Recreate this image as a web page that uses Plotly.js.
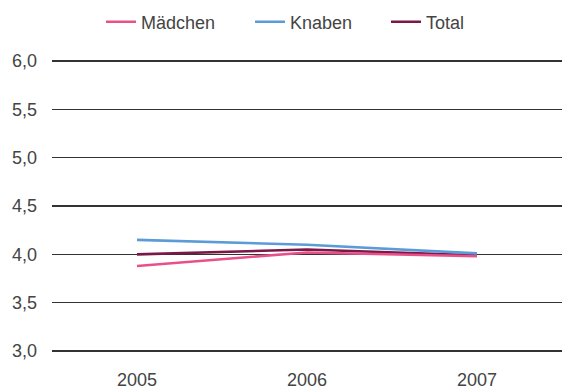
<!DOCTYPE html>
<html>
<head>
<meta charset="utf-8">
<script src="https://cdn.plot.ly/plotly-3.0.1.min.js"></script>
<style>
  html, body { margin: 0; padding: 0; background: #fff; }
  #chart { width: 571px; height: 387px; }
</style>
</head>
<body>
<div id="chart"></div>
<script>
// Years on the category axis
const years = ['2005', '2006', '2007'];

// Series values per year
const maedchen = [3.88, 4.02, 3.98];
const knaben   = [4.15, 4.10, 4.01];
const total    = [4.00, 4.05, 3.99];

// Y axis tick values
const yTicks = [3.0, 3.5, 4.0, 4.5, 5.0, 5.5, 6.0];

const fontFamily = 'Liberation Sans, Arial, sans-serif';
const textColor = '#444444';
const fontSize = 18;

const traces = [
  { name: 'Mädchen', y: maedchen, color: '#e8508a', legend: 'legend' },
  { name: 'Knaben',  y: knaben,   color: '#5b9bd8', legend: 'legend2' },
  { name: 'Total',   y: total,    color: '#7a1848', legend: 'legend3' }
].map(s => ({
  type: 'scatter',
  mode: 'lines',
  x: years,
  y: s.y,
  name: s.name,
  legend: s.legend,
  line: { color: s.color, width: 2.6 },
  hoverinfo: 'skip'
}));

// Order drawn: Total under Mädchen, Knaben on top
const drawOrder = [traces[2], traces[0], traces[1]];

const legendBase = {
  orientation: 'h',
  y: 1.1216,
  yanchor: 'middle',
  xanchor: 'left',
  bgcolor: 'rgba(0,0,0,0)',
  borderwidth: 0,
  font: { family: fontFamily, size: fontSize, color: textColor },
  itemclick: false,
  itemdoubleclick: false
};

const layout = {
  width: 571,
  height: 387,
  margin: { l: 52, r: 9, t: 58, b: 33, autoexpand: false },
  paper_bgcolor: '#ffffff',
  plot_bgcolor: '#ffffff',
  font: { family: fontFamily, size: fontSize, color: textColor },
  showlegend: true,
  legend:  Object.assign({}, legendBase, { x: (101 - 52) / 510 }),
  legend2: Object.assign({}, legendBase, { x: (250 - 52) / 510 }),
  legend3: Object.assign({}, legendBase, { x: (386 - 52) / 510 }),
  xaxis: {
    type: 'category',
    range: [-0.5, 2.5],
    showgrid: false,
    showline: false,
    zeroline: false,
    ticks: '',
    ticklabelstandoff: 13,
    tickfont: { family: fontFamily, size: fontSize, color: textColor },
    fixedrange: true
  },
  yaxis: {
    range: [2.97, 6.03],
    tickvals: yTicks,
    tickformat: '.1f',
    showgrid: true,
    gridcolor: '#333333',
    gridwidth: 1.4,
    zeroline: false,
    showline: false,
    ticks: '',
    ticklabelstandoff: 14,
    tickfont: { family: fontFamily, size: fontSize, color: textColor },
    fixedrange: true
  },
  separators: ',.'
};

Plotly.newPlot('chart', drawOrder, layout, { displayModeBar: false, staticPlot: true });
</script>
</body>
</html>
